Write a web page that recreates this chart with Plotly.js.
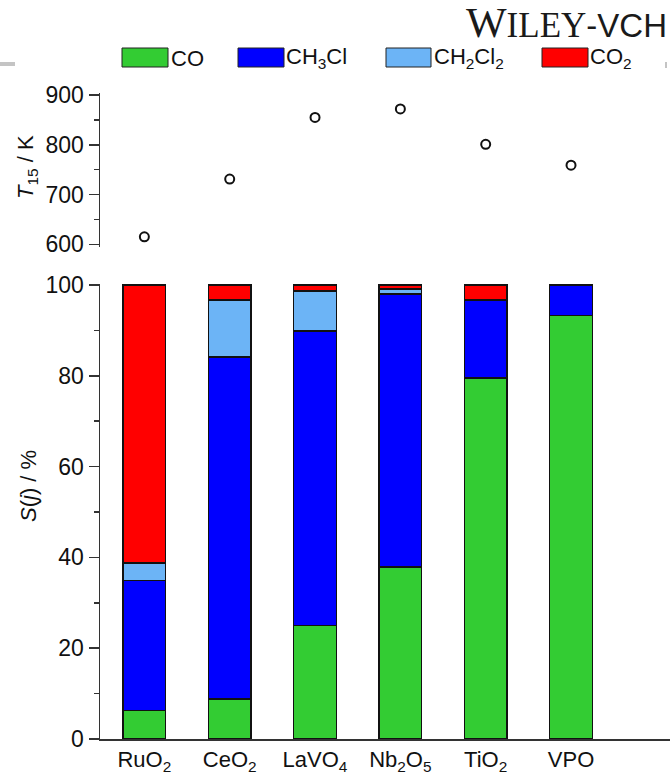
<!DOCTYPE html>
<html>
<head>
<meta charset="utf-8">
<script src="https://cdn.plot.ly/plotly-3.0.1.min.js"></script>
<style>html,body{margin:0;padding:0;background:#fff;}#chart{width:670px;height:774px;}</style>
</head>
<body>
<div id="chart"></div>
<script>
// ---- data ----
const categories = ['RuO<sub>2</sub>', 'CeO<sub>2</sub>', 'LaVO<sub>4</sub>', 'Nb<sub>2</sub>O<sub>5</sub>', 'TiO<sub>2</sub>', 'VPO'];
const T15 = [615, 731, 855, 872, 801, 759];
const sCO = [6.3, 8.8, 25.0, 37.9, 79.5, 93.3];
const sCH3Cl = [28.6, 75.3, 64.9, 60.1, 17.2, 6.7];
const sCH2Cl2 = [3.9, 12.6, 8.8, 1.1, 0, 0];
const sCO2 = [61.2, 3.3, 1.3, 0.9, 3.3, 0];
const seriesNames = ['CO', 'CH<sub>3</sub>Cl', 'CH<sub>2</sub>Cl<sub>2</sub>', 'CO<sub>2</sub>'];
const seriesColors = ['#33cc33', '#0000ff', '#6cb4f6', '#ff0000'];
const seriesValues = [sCO, sCH3Cl, sCH2Cl2, sCO2];
const yTitleTop = '<i>T</i><sub>15</sub> / K';
const yTitleBottom = '<i>S</i>(<i>j</i>) / %';

const xPos = categories.map((c, i) => i);
const font = '"Liberation Sans", Arial, sans-serif';
const serif = '"Liberation Serif", "Times New Roman", serif';
const axCol = '#333333';
const fs = 22;
const tfs = 23;

const traces = seriesValues.map((vals, k) => ({
  type: 'bar', x: xPos, y: vals, name: seriesNames[k],
  xaxis: 'x', yaxis: 'y',
  width: 0.5,
  marker: {color: seriesColors[k], line: {color: '#111', width: 1.5}},
  showlegend: false, hoverinfo: 'y+name'
}));
traces.push({
  type: 'scatter', mode: 'markers', x: xPos, y: T15, name: 'T15',
  xaxis: 'x2', yaxis: 'y2', showlegend: false,
  marker: {symbol: 'circle-open', size: 9, color: '#111', line: {width: 2, color: '#111'}}
});

// custom legend built from series names/colors
const legX = [[122, 168], [238, 284], [386, 431], [542, 588]];
const legTextX = [169, 284, 432, 588];
const shapes = [];
const annotations = [];
const W = 670, H = 774;
const px = v => (v - 100) / 570;
const py = v => 1 - v / H;
seriesNames.forEach((n, k) => {
  shapes.push({type: 'rect', xref: 'paper', yref: 'paper',
    x0: px(legX[k][0]), x1: px(legX[k][1]), y0: py(67), y1: py(48),
    fillcolor: seriesColors[k], line: {color: '#222', width: 1}});
  annotations.push({xref: 'paper', yref: 'paper', x: px(legTextX[k]), y: py(58),
    xanchor: 'left', yanchor: 'middle', showarrow: false, text: n,
    font: {family: font, size: fs, color: '#111'}});
});
// gray decorative marks
shapes.push({type: 'rect', xref: 'paper', yref: 'paper', x0: px(0), x1: px(15),
  y0: py(66), y1: py(62), fillcolor: '#c4c4c4', line: {width: 0}});
shapes.push({type: 'rect', xref: 'paper', yref: 'paper', x0: px(665), x1: px(667),
  y0: py(68), y1: py(62), fillcolor: '#c4c4c4', line: {width: 0}});
// watermark text
annotations.push({xref: 'paper', yref: 'paper', x: px(669), y: py(48),
  xanchor: 'right', yanchor: 'bottom', showarrow: false,
  text: '<span style="font-family:\'Liberation Serif\',serif;font-size:43px">W</span><span style="font-family:\'Liberation Serif\',serif;font-size:35px">ILEY</span><span style="font-family:\'Liberation Sans\',sans-serif;font-size:33px">-VCH</span>',
  font: {family: serif, size: 35, color: '#1a1a1a'}});
// axis titles
annotations.push({xref: 'paper', yref: 'paper', x: px(27), y: py(167), textangle: -90,
  xanchor: 'center', yanchor: 'middle', showarrow: false, text: yTitleTop,
  font: {family: font, size: fs, color: '#111'}});
annotations.push({xref: 'paper', yref: 'paper', x: px(28), y: py(486), textangle: -90,
  xanchor: 'center', yanchor: 'middle', showarrow: false, text: yTitleBottom,
  font: {family: font, size: fs, color: '#111'}});

const layout = {
  width: W, height: H,
  margin: {l: 100, r: 0, t: 0, b: 0},
  paper_bgcolor: '#fff', plot_bgcolor: '#fff',
  barmode: 'stack',
  showlegend: false,
  font: {family: font, size: fs, color: '#111'},
  xaxis: {
    domain: [0, 1], range: [-0.52, 6.16], tickmode: 'array', tickvals: xPos, ticktext: categories,
    showline: true, linecolor: axCol, linewidth: 1.5, ticks: '', showgrid: false, zeroline: false,
    tickfont: {family: font, size: fs, color: '#111'}, automargin: false, fixedrange: true
  },
  yaxis: {
    domain: [py(739), py(284.1)], range: [0, 100.2],
    tickvals: [0, 20, 40, 60, 80, 100], ticks: 'outside', ticklen: 10, tickwidth: 1.5, tickcolor: axCol,
    minor: {dtick: 10, ticks: 'outside', ticklen: 5, tickwidth: 1.5, tickcolor: axCol},
    showline: true, linecolor: axCol, linewidth: 1.5, showgrid: false, zeroline: false,
    tickfont: {family: font, size: tfs, color: '#111'}, automargin: false
  },
  xaxis2: {
    domain: [0, 1], range: [-0.52, 6.16], anchor: 'y2', visible: false, matches: 'x'
  },
  yaxis2: {
    domain: [py(247), py(93)], range: [594.6, 904], anchor: 'x2',
    tickvals: [600, 700, 800, 900], ticks: 'outside', ticklen: 10, tickwidth: 1.5, tickcolor: axCol,
    minor: {dtick: 50, ticks: 'outside', ticklen: 5, tickwidth: 1.5, tickcolor: axCol},
    showline: true, linecolor: axCol, linewidth: 1.5, showgrid: false, zeroline: false,
    tickfont: {family: font, size: tfs, color: '#111'}, automargin: false
  },
  shapes: shapes,
  annotations: annotations
};

Plotly.newPlot('chart', traces, layout, {displayModeBar: false, staticPlot: true});
</script>
</body>
</html>
